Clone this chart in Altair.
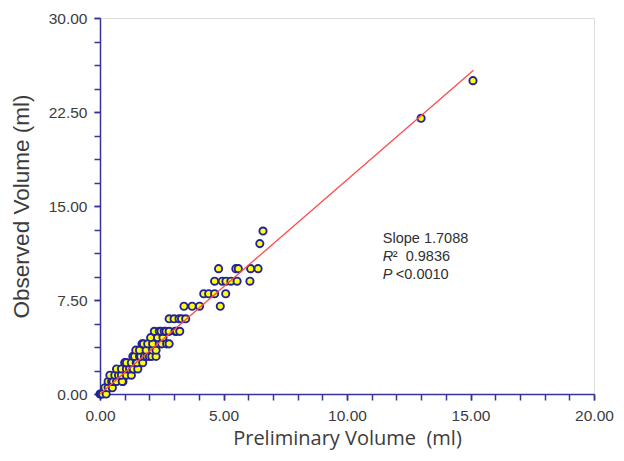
import altair as alt
import pandas as pd

# Observed (y) vs preliminary (x) volumes
prelim = [0.0, 0.05, 0.1, 0.25, 0.2, 0.33, 0.5,
          0.33, 0.47, 0.53, 0.67, 0.93, 0.9,
          0.4, 0.6, 0.75, 0.87, 1.07, 1.27,
          0.67, 0.87, 1.07, 1.2, 1.33, 1.35, 1.53,
          1.0, 1.07, 1.27, 1.47, 1.5, 1.73,
          1.33, 1.4, 1.6, 1.65, 1.8, 1.9, 2.0, 2.1, 2.27,
          1.45, 1.6, 1.87, 2.13, 2.27,
          1.7, 1.76, 1.93, 2.13, 2.4, 2.5, 2.7, 2.8,
          2.05, 2.33, 2.55,
          2.2, 2.4, 2.47, 2.6, 2.67, 2.8, 3.04, 3.1, 3.23,
          2.8, 3.0, 3.2, 3.3, 3.47,
          3.4, 3.73, 4.03, 4.87,
          4.2, 4.4, 4.64, 5.09,
          4.64, 4.95, 5.1, 5.3, 5.55, 6.07,
          4.8, 5.5, 5.6, 6.1, 6.4,
          6.47, 6.6, 13.0, 15.1]
observed = [0, 0, 0, 0, 0.5, 0.5, 0.5,
            1, 1, 1, 1, 1, 1,
            1.5, 1.5, 1.5, 1.5, 1.5, 1.5,
            2, 2, 2, 2, 2, 2, 2,
            2.5, 2.5, 2.5, 2.5, 2.5, 2.5,
            3, 3, 3, 3, 3, 3, 3, 3, 3,
            3.5, 3.5, 3.5, 3.5, 3.5,
            4, 4, 4, 4, 4, 4, 4, 4,
            4.5, 4.5, 4.5,
            5, 5, 5, 5, 5, 5, 5, 5, 5,
            6, 6, 6, 6, 6,
            7, 7, 7, 7,
            8, 8, 8, 8,
            9, 9, 9, 9, 9, 9,
            10, 10, 10, 10, 10,
            12, 13, 22, 25]

# Regression line end points (slope 1.7088 through origin)
line_x = [0.0, 15.12]
line_y = [0.0, 25.84]

x_major = [0, 5, 10, 15, 20]
x_minor = list(range(0, 21))
y_major = [0, 7.5, 15, 22.5, 30]
y_minor = [i * 1.875 for i in range(17)]

ann_x = 11.45
ann_y = [12.37, 10.93, 9.5]

pts = pd.DataFrame({"x": prelim, "y": observed})
ln = pd.DataFrame({"x": line_x, "y": line_y})

AX = "#34349c"
LBL = "#3c3c3c"

xscale = alt.Scale(domain=[0, 20], nice=False)
yscale = alt.Scale(domain=[0, 30], nice=False)

common = dict(grid=False, tickColor=AX, tickWidth=1.5, tickSize=6)

x_major_axis = alt.Axis(
    orient="bottom", values=x_major, format=".2f",
    title="Preliminary Volume\u00a0\u00a0(ml)",
    domainColor=AX, domainWidth=1.5, labelFlush=False, labelOverlap=False,
    labelFont="Liberation Sans", labelFontSize=15.5, labelColor=LBL, labelPadding=8,
    titleFont="Open Sans", titleFontSize=20, titleFontWeight="normal",
    titleColor=LBL, titlePadding=5, **common,
)
x_minor_axis = alt.Axis(orient="bottom", values=x_minor, labels=False, domain=False,
                        title=None, **common)
y_major_axis = alt.Axis(
    orient="left", values=y_major, format=".2f",
    title="Observed Volume (ml)",
    domainColor=AX, domainWidth=1.5, labelFlush=False, labelOverlap=False,
    labelFont="Liberation Sans", labelFontSize=15.5, labelColor=LBL, labelPadding=7,
    titleFont="Liberation Sans", titleFontSize=22.5, titleFontWeight="normal",
    titleColor=LBL, titlePadding=15, **common,
)
y_minor_axis = alt.Axis(orient="left", values=y_minor, labels=False, domain=False,
                        title=None, **common)

points = alt.Chart(pts).mark_point(
    filled=True, fill="#ffff10", stroke="#22229a", strokeWidth=1.9, size=52, opacity=1
).encode(
    x=alt.X("x:Q", scale=xscale, axis=x_major_axis),
    y=alt.Y("y:Q", scale=yscale, axis=y_major_axis),
)

line = alt.Chart(ln).mark_line(color="#ff4a4a", strokeWidth=1.3).encode(
    x=alt.X("x:Q", scale=xscale, axis=x_minor_axis),
    y=alt.Y("y:Q", scale=yscale, axis=y_minor_axis),
)

tf = dict(font="Liberation Sans", fontSize=14.5, color="#303030", align="left", baseline="middle")


def txt(y, t, dx=0, italic=False):
    kw = dict(tf)
    if italic:
        kw["fontStyle"] = "italic"
    return alt.Chart(pd.DataFrame({"x": [ann_x], "y": [y], "t": [t]})).mark_text(dx=dx, **kw).encode(
        x=alt.X("x:Q", scale=xscale, axis=None),
        y=alt.Y("y:Q", scale=yscale, axis=None),
        text="t:N",
    )


t1 = txt(ann_y[0], "Slope 1.7088")
t2a = txt(ann_y[1], "R", italic=True)
t2b = txt(ann_y[1], "\u00b2\u00a0 0.9836", dx=10)
t3a = txt(ann_y[2], "P", italic=True)
t3b = txt(ann_y[2], "<0.0010", dx=13)

chart = alt.layer(points, line, t1, t2a, t2b, t3a, t3b).resolve_axis(
    x="independent", y="independent"
).properties(
    width=494, height=376,
    autosize=alt.AutoSizeParams(type="none"),
    padding={"left": 92, "top": 10, "right": 22, "bottom": 59},
).configure_view(stroke=None).configure(background="white")

chart.save("out.html", embed_options={"renderer": "svg", "actions": False})
